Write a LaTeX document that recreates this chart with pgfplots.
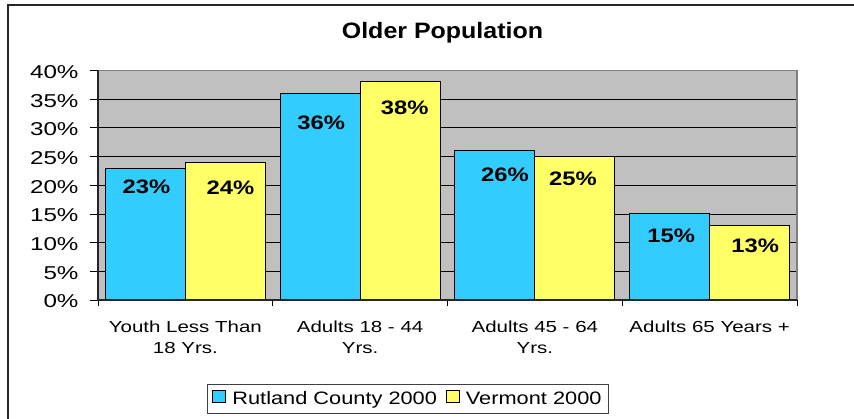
\documentclass[border=0pt]{standalone}
\usepackage{pgfplots}
\usepackage{pgfplotstable}
\pgfplotsset{compat=1.18}
\usepackage{fontspec}
\setmainfont{Liberation Sans}
\newfontfamily\fTick[FakeStretch=1.30]{Liberation Sans}
\newfontfamily\fCat[FakeStretch=1.28]{Liberation Sans}
\newfontfamily\fBar[FakeStretch=1.22]{Liberation Sans}
\newfontfamily\fLeg[FakeStretch=1.21]{Liberation Sans}
\newfontfamily\fTitle[FakeStretch=1.12]{Liberation Sans}
\definecolor{cyanbar}{HTML}{33CCFF}
\definecolor{yelbar}{HTML}{FFFF66}
\definecolor{plotbg}{HTML}{C0C0C0}
\definecolor{frame}{HTML}{808080}

\pgfplotstableread{
x y dx dy
0 23 1 19
1 36 1 29.5
2 26 10 23.5
3 15 1.5 22
}\rutland
\pgfplotstableread{
x y dx dy
0 24 5 25.5
1 38 4.5 26
2 25 -2 22
3 13 5.5 20
}\vermont

\begin{document}
\begin{tikzpicture}
\useasboundingbox (0,0) rectangle (854pt,419pt);
\draw[line width=1.5pt, black!85] (8pt,-30pt) -- (8pt,414pt) -- (900pt,414pt);
\begin{axis}[
  at={(98pt,119pt)}, anchor=south west,
  scale only axis, width=699pt, height=229.5pt,
  xmin=-0.5, xmax=3.5, ymin=0, ymax=40,
  ybar=0pt, bar width=80pt,
  axis background/.style={fill=plotbg},
  axis line style={draw=none},
  ytick={0,5,...,40}, ymajorgrids,
  major grid style={black, line width=0.8pt},
  /pgf/number format/assume math mode=true,
  yticklabel={\pgfmathprintnumber{\tick}\%},
  yticklabel style={font=\fTick\fontsize{18.6}{20}\selectfont, xshift=-8pt, yshift=-1.5pt},
  xtick={0,1,2,3},
  xticklabels={{Youth Less Than\\18 Yrs.},{Adults 18 - 44\\Yrs.},{Adults 45 - 64\\Yrs.},{Adults 65 Years +}},
  xticklabel style={font=\fCat\fontsize{16}{21.5}\selectfont, align=center, anchor=north, yshift=-9pt},
  major x tick style={draw=none},
  minor xtick={-0.5,0.5,1.5,2.5,3.5},
  tick align=outside, tick pos=left,
  major tick length=8pt, minor tick length=6pt,
  tick style={black, line width=0.8pt},
  title={Older Population},
  title style={font=\fTitle\bfseries\fontsize{22.3}{24}\selectfont, at={(axis description cs:0.4928,1.1416)}, anchor=base, yshift=-7pt},
  legend style={at={(axis description cs:0.4435,-0.43)}, anchor=center, legend columns=2, draw=black!75, line width=0.8pt,
    font=\fLeg\fontsize{18}{20}\selectfont, inner xsep=5pt, inner ysep=5pt,
    /tikz/every even column/.append style={column sep=7pt}},
  legend image code/.code={\draw[#1,draw=black,line width=0.8pt] (0pt,-4pt) rectangle (13pt,8pt); \path (17pt,0pt);},
  visualization depends on={\thisrow{dx} \as \dx},
  visualization depends on={\thisrow{dy} \as \dy},
  nodes near coords={\pgfmathprintnumber{\pgfplotspointmeta}\%},
  nodes near coords style={anchor=center, xshift=\dx pt, yshift=-\dy pt, font=\fBar\bfseries\fontsize{19.5}{20}\selectfont, text=black},
  after end axis/.code={
    \draw[frame, line width=1.5pt] (rel axis cs:0,1) -- (rel axis cs:1,1) -- (rel axis cs:1,0);
    \draw[black!85, line width=1.3pt] (rel axis cs:0,1) -- (rel axis cs:0,0) -- (rel axis cs:1,0);
  },
]
\addplot[fill=cyanbar, draw=black, line width=1pt] table[x=x,y=y] {\rutland};
\addlegendentry{Rutland County 2000}
\addplot[fill=yelbar, draw=black, line width=1pt] table[x=x,y=y] {\vermont};
\addlegendentry{Vermont 2000}
\end{axis}
\end{tikzpicture}
\end{document}
